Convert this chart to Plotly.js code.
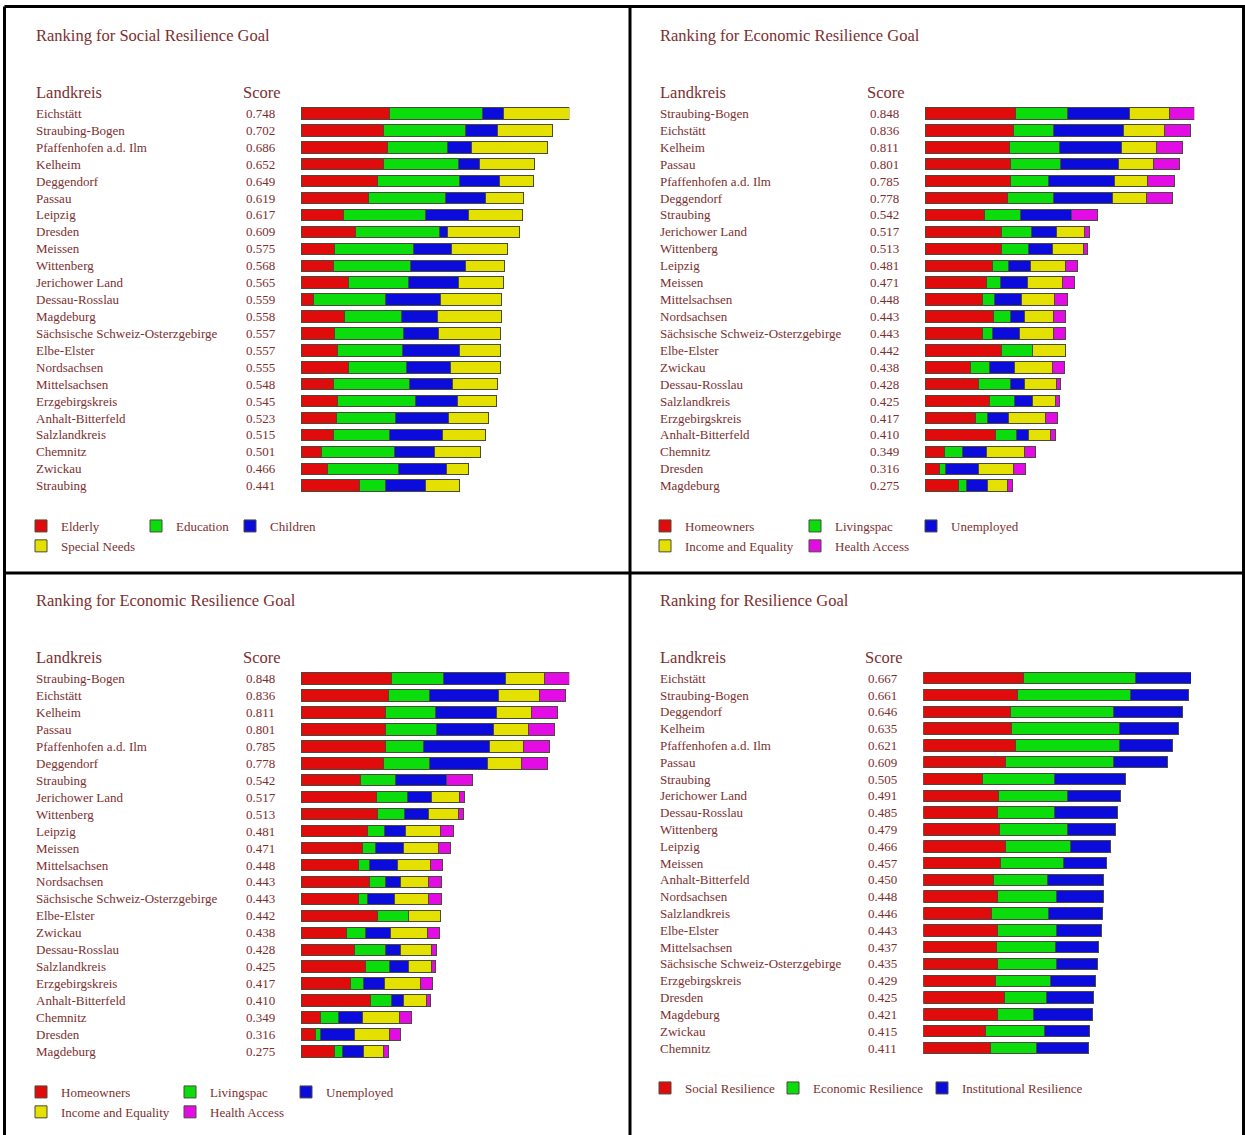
<!DOCTYPE html>
<html><head><meta charset="utf-8">
<script src="https://cdn.plot.ly/plotly-3.0.1.min.js"></script>
<style>html,body{margin:0;padding:0;background:#fff;}#chart{width:1245px;height:1135px;}</style>
</head><body><div id="chart"></div>
<script>
// ---------- Social Resilience Goal ----------
const socialNames = ["Eichstätt","Straubing-Bogen","Pfaffenhofen a.d. Ilm","Kelheim","Deggendorf","Passau","Leipzig","Dresden","Meissen","Wittenberg","Jerichower Land","Dessau-Rosslau","Magdeburg","Sächsische Schweiz-Osterzgebirge","Elbe-Elster","Nordsachsen","Mittelsachsen","Erzgebirgskreis","Anhalt-Bitterfeld","Salzlandkreis","Chemnitz","Zwickau","Straubing"];
const socialScores = [0.748,0.702,0.686,0.652,0.649,0.619,0.617,0.609,0.575,0.568,0.565,0.559,0.558,0.557,0.557,0.555,0.548,0.545,0.523,0.515,0.501,0.466,0.441];
const socialElderly = [0.246,0.229,0.241,0.229,0.214,0.188,0.119,0.152,0.094,0.091,0.133,0.034,0.121,0.094,0.103,0.132,0.090,0.103,0.099,0.090,0.058,0.073,0.164];
const socialEducation = [0.260,0.230,0.167,0.210,0.228,0.215,0.229,0.234,0.219,0.215,0.168,0.201,0.158,0.192,0.179,0.161,0.212,0.216,0.165,0.156,0.203,0.200,0.072];
const socialChildren = [0.058,0.088,0.068,0.059,0.110,0.112,0.119,0.022,0.106,0.152,0.137,0.153,0.102,0.098,0.159,0.124,0.120,0.116,0.148,0.148,0.111,0.132,0.111];
const socialSpecialNeeds = [0.184,0.155,0.210,0.154,0.097,0.104,0.150,0.201,0.156,0.110,0.127,0.171,0.177,0.173,0.116,0.138,0.126,0.110,0.111,0.121,0.129,0.061,0.094];

// ---------- Economic Resilience Goal ----------
const econNames = ["Straubing-Bogen","Eichstätt","Kelheim","Passau","Pfaffenhofen a.d. Ilm","Deggendorf","Straubing","Jerichower Land","Wittenberg","Leipzig","Meissen","Mittelsachsen","Nordsachsen","Sächsische Schweiz-Osterzgebirge","Elbe-Elster","Zwickau","Dessau-Rosslau","Salzlandkreis","Erzgebirgskreis","Anhalt-Bitterfeld","Chemnitz","Dresden","Magdeburg"];
const econScores = [0.848,0.836,0.811,0.801,0.785,0.778,0.542,0.517,0.513,0.481,0.471,0.448,0.443,0.443,0.442,0.438,0.428,0.425,0.417,0.410,0.349,0.316,0.275];
const econHomeowners = [0.286,0.278,0.266,0.268,0.268,0.260,0.188,0.240,0.242,0.211,0.193,0.181,0.215,0.181,0.241,0.143,0.169,0.203,0.158,0.221,0.061,0.047,0.105];
const econLivingspac = [0.164,0.128,0.159,0.159,0.120,0.146,0.112,0.096,0.085,0.053,0.044,0.037,0.053,0.030,0.098,0.060,0.099,0.078,0.039,0.066,0.057,0.016,0.027];
const econUnemployed = [0.195,0.218,0.193,0.182,0.209,0.184,0.161,0.078,0.075,0.067,0.087,0.086,0.046,0.086,0,0.080,0.046,0.059,0.066,0.038,0.077,0.105,0.066];
const econIncome = [0.124,0.129,0.111,0.109,0.105,0.108,0,0.088,0.097,0.111,0.109,0.105,0.090,0.107,0.103,0.117,0.099,0.071,0.116,0.071,0.117,0.111,0.062];
const econHealth = [0.079,0.083,0.082,0.083,0.083,0.080,0.081,0.015,0.014,0.039,0.038,0.039,0.039,0.039,0,0.038,0.015,0.014,0.038,0.014,0.037,0.037,0.015];

// ---------- Resilience Goal ----------
const resNames = ["Eichstätt","Straubing-Bogen","Deggendorf","Kelheim","Pfaffenhofen a.d. Ilm","Passau","Straubing","Jerichower Land","Dessau-Rosslau","Wittenberg","Leipzig","Meissen","Anhalt-Bitterfeld","Nordsachsen","Salzlandkreis","Elbe-Elster","Mittelsachsen","Sächsische Schweiz-Osterzgebirge","Erzgebirgskreis","Dresden","Magdeburg","Zwickau","Chemnitz"];
const resScores = [0.667,0.661,0.646,0.635,0.621,0.609,0.505,0.491,0.485,0.479,0.466,0.457,0.450,0.448,0.446,0.443,0.437,0.435,0.429,0.425,0.421,0.415,0.411];
const resSocial = [0.250,0.235,0.217,0.219,0.230,0.206,0.148,0.188,0.185,0.189,0.206,0.193,0.175,0.185,0.171,0.185,0.183,0.186,0.180,0.202,0.185,0.156,0.168];
const resEconomic = [0.278,0.281,0.258,0.269,0.259,0.268,0.179,0.171,0.141,0.170,0.160,0.156,0.135,0.147,0.141,0.148,0.147,0.145,0.138,0.105,0.090,0.145,0.114];
const resInstitutional = [0.139,0.145,0.171,0.147,0.132,0.135,0.178,0.132,0.159,0.120,0.100,0.108,0.140,0.116,0.134,0.110,0.107,0.104,0.111,0.118,0.146,0.114,0.129];

const W = 1245, H = 1135;
const FONT = '"Liberation Serif","Times New Roman",serif';
const TXT = '#7d2f2f';
const RED = '#e00b0b', GREEN = '#0bdc0b', BLUE = '#0b0bdc', YELLOW = '#e4e000', MAGENTA = '#e40ce4';
const px = x => x / W, py = y => 1 - y / H;

const panels = [
  {title: 'Ranking for Social Resilience Goal', names: socialNames, scores: socialScores,
   series: [['Elderly', socialElderly, RED, 'legend'], ['Education', socialEducation, GREEN, 'legend2'],
            ['Children', socialChildren, BLUE, 'legend3'], ['Special Needs', socialSpecialNeeds, YELLOW, 'legend']],
   xL: 301, xR: 569.3, yT: 105.0, yB: 494.2, left: 34, scoreX: 260.5, titleY: 35, headY: 92},
  {title: 'Ranking for Economic Resilience Goal', names: econNames, scores: econScores,
   series: [['Homeowners', econHomeowners, RED, 'legend4'], ['Livingspac', econLivingspac, GREEN, 'legend5'],
            ['Unemployed', econUnemployed, BLUE, 'legend6'], ['Income and Equality', econIncome, YELLOW, 'legend4'],
            ['Health Access', econHealth, MAGENTA, 'legend5']],
   xL: 925, xR: 1194.3, yT: 105.0, yB: 494.2, left: 658, scoreX: 884.5, titleY: 35, headY: 92},
  {title: 'Ranking for Economic Resilience Goal', names: econNames, scores: econScores,
   series: [['Homeowners', econHomeowners, RED, 'legend7'], ['Livingspac', econLivingspac, GREEN, 'legend8'],
            ['Unemployed', econUnemployed, BLUE, 'legend9'], ['Income and Equality', econIncome, YELLOW, 'legend7'],
            ['Health Access', econHealth, MAGENTA, 'legend8']],
   xL: 301, xR: 569.3, yT: 670.0, yB: 1060.0, left: 34, scoreX: 260.5, titleY: 600, headY: 657},
  {title: 'Ranking for Resilience Goal', names: resNames, scores: resScores,
   series: [['Social Resilience', resSocial, RED, 'legend10'], ['Economic Resilience', resEconomic, GREEN, 'legend11'],
            ['Institutional Resilience', resInstitutional, BLUE, 'legend12']],
   xL: 923.3, xR: 1191, yT: 669.8, yB: 1056.4, left: 658, scoreX: 882.5, titleY: 600, headY: 657}
];

const data = [];
const layout = {
  width: W, height: H, margin: {l: 0, r: 0, t: 0, b: 0},
  paper_bgcolor: '#ffffff', plot_bgcolor: 'rgba(0,0,0,0)',
  barmode: 'stack', bargap: 0.32, hovermode: false,
  font: {family: FONT, color: TXT, size: 13},
  annotations: [], shapes: []
};

panels.forEach((p, k) => {
  const n = k + 1;
  const xa = n === 1 ? 'x' : 'x' + n, ya = n === 1 ? 'y' : 'y' + n;
  const xk = n === 1 ? 'xaxis' : 'xaxis' + n, yk = n === 1 ? 'yaxis' : 'yaxis' + n;
  layout[xk] = {domain: [px(p.xL), px(p.xR)], range: [0, p.scores[0]], anchor: ya,
    showgrid: false, zeroline: false, showticklabels: false, showline: false, ticks: ''};
  layout[yk] = {domain: [py(p.yB), py(p.yT)], type: 'category', categoryorder: 'array',
    categoryarray: p.names, range: [p.names.length - 0.5, -0.5], anchor: xa,
    showgrid: false, zeroline: false, showticklabels: false, showline: false, ticks: ''};
  p.series.forEach(s => {
    data.push({type: 'bar', orientation: 'h', name: s[0], x: s[1], y: p.names,
      xaxis: xa, yaxis: ya, legend: s[3],
      marker: {color: s[2], line: {color: '#4a4a3a', width: 1}}});
  });
  const A = layout.annotations;
  A.push({xref: 'paper', yref: 'paper', x: px(p.left), y: py(p.titleY), xanchor: 'left', yanchor: 'middle',
    text: p.title, showarrow: false, font: {family: FONT, size: 16.5, color: TXT}});
  A.push({xref: 'paper', yref: 'paper', x: px(p.left), y: py(p.headY), xanchor: 'left', yanchor: 'middle',
    text: 'Landkreis', showarrow: false, font: {family: FONT, size: 16.5, color: TXT}});
  A.push({xref: 'paper', yref: 'paper', x: px(p.scoreX + 1), y: py(p.headY), xanchor: 'center', yanchor: 'middle',
    text: 'Score', showarrow: false, font: {family: FONT, size: 16.5, color: TXT}});
  p.names.forEach((nm, i) => {
    A.push({xref: 'paper', yref: ya, x: px(p.left), y: i, xanchor: 'left', yanchor: 'middle',
      text: nm, showarrow: false, font: {family: FONT, size: 13, color: TXT}});
    A.push({xref: 'paper', yref: ya, x: px(p.scoreX), y: i, xanchor: 'center', yanchor: 'middle',
      text: p.scores[i].toFixed(3), showarrow: false, font: {family: FONT, size: 13, color: TXT}});
  });
});

// legends (one per column)
const legendPos = [
  [21, 511], [136, 511], [230, 511],
  [645, 511], [795, 511], [911, 511],
  [21, 1077], [170, 1077], [286, 1077],
  [645, 1073], [773, 1073], [922, 1073]
];
legendPos.forEach((lp, i) => {
  const key = i === 0 ? 'legend' : 'legend' + (i + 1);
  layout[key] = {x: px(lp[0]), y: py(lp[1]), xanchor: 'left', yanchor: 'top', orientation: 'v',
    traceorder: 'normal', bgcolor: 'rgba(0,0,0,0)', borderwidth: 0,
    font: {family: FONT, size: 13, color: TXT}, itemclick: false, itemdoubleclick: false};
});

// panel borders
const line = {color: '#000000', width: 3};
const seg = (x0, y0, x1, y1) => ({type: 'line', xref: 'paper', yref: 'paper',
  x0: px(x0), y0: py(y0), x1: px(x1), y1: py(y1), line: line, layer: 'above'});
layout.shapes.push(seg(4.5, 6.5, 1245, 6.5));
layout.shapes.push(seg(4.5, 6.5, 4.5, 1135));
layout.shapes.push(seg(1243.5, 6.5, 1243.5, 1135));
layout.shapes.push(seg(4.5, 573, 1245, 573));
layout.shapes.push(seg(630, 6.5, 630, 1135));

Plotly.newPlot('chart', data, layout, {displayModeBar: false, staticPlot: true});
</script></body></html>
